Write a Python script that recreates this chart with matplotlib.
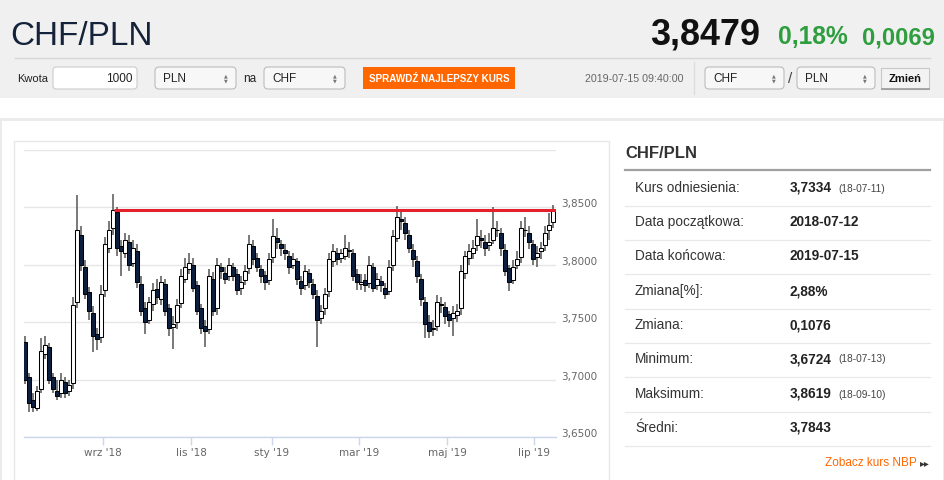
### CHF/PLN - kurs i wykres świecowy ###
import matplotlib
matplotlib.use('Agg')
import matplotlib.pyplot as plt
from matplotlib import font_manager as fm
from matplotlib.patches import Rectangle, FancyBboxPatch
import numpy as np

# dane świec (co ok. 2 sesje, 2018-07-12 .. 2019-07-15)
open_ = [3.733, 3.702, 3.682, 3.675, 3.692, 3.722, 3.728, 3.702, 3.690, 3.688,
         3.698, 3.690, 3.697, 3.768, 3.826, 3.798, 3.776, 3.758, 3.740, 3.737,
         3.778, 3.815, 3.832, 3.846, 3.816, 3.810, 3.820, 3.802, 3.812, 3.783,
         3.762, 3.752, 3.766, 3.779, 3.770, 3.783, 3.762, 3.746, 3.750, 3.767,
         3.788, 3.796, 3.800, 3.782, 3.762, 3.747, 3.744, 3.788, 3.762, 3.798,
         3.793, 3.790, 3.798, 3.792, 3.780, 3.787, 3.797, 3.816, 3.806, 3.796,
         3.791, 3.787, 3.807, 3.823, 3.818, 3.813, 3.808, 3.800, 3.803, 3.786,
         3.782, 3.793, 3.783, 3.773, 3.754, 3.762, 3.777, 3.803, 3.810, 3.806,
         3.808, 3.813, 3.810, 3.792, 3.783, 3.787, 3.784, 3.798, 3.782, 3.786,
         3.780, 3.777, 3.800, 3.823, 3.840, 3.836, 3.826, 3.813, 3.803, 3.788,
         3.768, 3.750, 3.744, 3.747, 3.766, 3.763, 3.757, 3.754, 3.756, 3.762,
         3.793, 3.806, 3.810, 3.817, 3.823, 3.820, 3.817, 3.822, 3.830, 3.828,
         3.813, 3.797, 3.787, 3.800, 3.807, 3.830, 3.828, 3.818, 3.807, 3.812,
         3.817, 3.830, 3.837]
close = [3.700, 3.680, 3.676, 3.690, 3.725, 3.730, 3.700, 3.692, 3.686, 3.700,
         3.688, 3.695, 3.765, 3.830, 3.800, 3.775, 3.760, 3.738, 3.735, 3.775,
         3.818, 3.830, 3.848, 3.815, 3.812, 3.822, 3.800, 3.815, 3.785, 3.760,
         3.750, 3.768, 3.778, 3.772, 3.785, 3.760, 3.745, 3.748, 3.765, 3.790,
         3.798, 3.802, 3.780, 3.760, 3.745, 3.742, 3.790, 3.760, 3.800, 3.795,
         3.788, 3.800, 3.790, 3.778, 3.785, 3.795, 3.818, 3.805, 3.798, 3.790,
         3.785, 3.805, 3.825, 3.820, 3.815, 3.810, 3.798, 3.805, 3.788, 3.780,
         3.795, 3.785, 3.775, 3.752, 3.760, 3.775, 3.805, 3.812, 3.805, 3.810,
         3.815, 3.812, 3.790, 3.785, 3.785, 3.782, 3.800, 3.780, 3.788, 3.782,
         3.775, 3.798, 3.825, 3.842, 3.838, 3.828, 3.815, 3.805, 3.790, 3.770,
         3.748, 3.742, 3.745, 3.768, 3.765, 3.755, 3.752, 3.758, 3.760, 3.795,
         3.808, 3.812, 3.815, 3.825, 3.822, 3.815, 3.820, 3.832, 3.830, 3.815,
         3.795, 3.785, 3.798, 3.805, 3.832, 3.830, 3.820, 3.805, 3.810, 3.815,
         3.828, 3.835, 3.848]
high = [3.738, 3.706, 3.688, 3.694, 3.736, 3.738, 3.732, 3.706, 3.700, 3.706,
        3.702, 3.700, 3.772, 3.861, 3.834, 3.804, 3.781, 3.764, 3.745, 3.782,
        3.824, 3.838, 3.862, 3.850, 3.822, 3.828, 3.826, 3.822, 3.818, 3.790,
        3.768, 3.772, 3.784, 3.788, 3.790, 3.788, 3.766, 3.755, 3.770, 3.796,
        3.806, 3.810, 3.806, 3.786, 3.766, 3.752, 3.796, 3.794, 3.806, 3.802,
        3.798, 3.806, 3.802, 3.796, 3.790, 3.800, 3.826, 3.822, 3.810, 3.800,
        3.795, 3.810, 3.840, 3.832, 3.822, 3.818, 3.812, 3.810, 3.806, 3.790,
        3.800, 3.796, 3.788, 3.778, 3.765, 3.780, 3.810, 3.818, 3.815, 3.814,
        3.826, 3.820, 3.814, 3.796, 3.792, 3.792, 3.808, 3.802, 3.793, 3.790,
        3.784, 3.804, 3.830, 3.851, 3.846, 3.842, 3.830, 3.818, 3.808, 3.792,
        3.772, 3.756, 3.752, 3.774, 3.772, 3.768, 3.760, 3.764, 3.766, 3.800,
        3.812, 3.818, 3.822, 3.840, 3.830, 3.826, 3.828, 3.850, 3.838, 3.832,
        3.818, 3.800, 3.804, 3.812, 3.838, 3.842, 3.834, 3.822, 3.816, 3.820,
        3.834, 3.845, 3.852]
low = [3.696, 3.672, 3.672, 3.673, 3.688, 3.718, 3.696, 3.688, 3.682, 3.684,
       3.684, 3.686, 3.692, 3.762, 3.795, 3.770, 3.752, 3.724, 3.726, 3.732,
       3.772, 3.810, 3.826, 3.808, 3.790, 3.806, 3.795, 3.798, 3.780, 3.755,
       3.740, 3.748, 3.760, 3.766, 3.765, 3.755, 3.738, 3.727, 3.744, 3.762,
       3.784, 3.792, 3.776, 3.756, 3.740, 3.728, 3.740, 3.755, 3.756, 3.788,
       3.783, 3.786, 3.786, 3.774, 3.774, 3.782, 3.792, 3.800, 3.794, 3.784,
       3.778, 3.782, 3.802, 3.814, 3.808, 3.804, 3.792, 3.796, 3.782, 3.774,
       3.778, 3.780, 3.770, 3.728, 3.748, 3.756, 3.772, 3.798, 3.800, 3.802,
       3.804, 3.806, 3.786, 3.778, 3.778, 3.776, 3.780, 3.776, 3.778, 3.776,
       3.770, 3.774, 3.795, 3.820, 3.830, 3.822, 3.810, 3.798, 3.784, 3.764,
       3.736, 3.736, 3.738, 3.742, 3.758, 3.748, 3.746, 3.738, 3.750, 3.756,
       3.788, 3.800, 3.805, 3.812, 3.815, 3.808, 3.812, 3.818, 3.824, 3.808,
       3.790, 3.777, 3.783, 3.796, 3.802, 3.824, 3.814, 3.800, 3.798, 3.805,
       3.812, 3.822, 3.832]

last_price = 3.8479
month_labels = ["wrz '18", "lis '18", "sty '19", "mar '19", "maj '19", "lip '19"]
month_pos = [19.5, 41.5, 61.75, 83.5, 105.5, 127.25]   # indeks świecy
y_ticks = [3.65, 3.70, 3.75, 3.80, 3.85, 3.90]
y_labels = ['3,6500', '3,7000', '3,7500', '3,8000', '3,8500', '']

table_labels = ['Kurs odniesienia:', 'Data początkowa:', 'Data końcowa:', 'Zmiana[%]:',
                'Zmiana:', 'Minimum:', 'Maksimum:', 'Średni:']
table_values = ['3,7334', '2018-07-12', '2019-07-15', '2,88%', '0,1076', '3,6724', '3,8619', '3,7843']
table_dates = ['(18-07-11)', '', '', '', '', '(18-07-13)', '(18-09-10)', '']

# czcionki
names = {f.name for f in fm.fontManager.ttflist}
narrow = 'Liberation Sans Narrow' if 'Liberation Sans Narrow' in names else 'Liberation Sans'
sans = 'Liberation Sans'

fig = plt.figure(figsize=(9.45, 4.8), dpi=100)
fig.patch.set_facecolor('white')
rend = fig.canvas.get_renderer()

bg = fig.add_axes([0, 0, 1, 1])
bg.set_xlim(0, 945)
bg.set_ylim(480, 0)
bg.axis('off')


def fit(x, y, s, w, **kw):
    # tekst dopasowany do szerokości w pikselach
    t = bg.text(x, y, s, **kw)
    bb = t.get_window_extent(rend)
    t.set_fontsize(t.get_fontsize() * w / bb.width)
    return t


def select(x0, x1, label):
    bg.add_patch(FancyBboxPatch((x0, 67), x1 - x0, 22, boxstyle='round,pad=0,rounding_size=4',
                                fc='#f7f7f7', ec='#bcbcbc', lw=0.8))
    bg.text(x0 + 8, 78.5, label, va='center', fontsize=8.5, family=narrow, color='#222')
    bg.text(x1 - 10, 75.5, '▲', ha='center', va='center', fontsize=3.5, color='#777')
    bg.text(x1 - 10, 81, '▼', ha='center', va='center', fontsize=3.5, color='#777')


# tło strony
bg.add_patch(Rectangle((0, 0), 945, 98, fc='#f0f0f0', ec='none'))
bg.add_patch(Rectangle((0, 118), 945, 3, fc='#ebebeb', ec='none'))
bg.add_patch(Rectangle((0, 118), 2, 362, fc='#ebebeb', ec='none'))
bg.add_patch(Rectangle((943, 118), 2, 362, fc='#ebebeb', ec='none'))
bg.add_patch(Rectangle((13.5, 140.5), 595.5, 345, fc='white', ec='#e6e6e6', lw=1))

# nagłówek
fit(10, 45, 'CHF/PLN', 142, fontsize=30, family=narrow, color='#14233a', va='baseline')
fit(650, 45, '3,8479', 110, fontsize=30, family=narrow, weight='bold', color='#111111', va='baseline')
fit(778, 44, '0,18%', 70, fontsize=20, family=narrow, weight='bold', color='#2e9e3e', va='baseline')
fit(862, 44, '0,0069', 73, fontsize=20, family=narrow, weight='bold', color='#2e9e3e', va='baseline')
bg.plot([15, 930], [57.5, 57.5], color='#d6d6d6', lw=1)

# formularz
fit(17, 78.5, 'Kwota', 31, fontsize=8, family=narrow, color='#222', va='center')
bg.add_patch(FancyBboxPatch((53, 67), 84, 22, boxstyle='round,pad=0,rounding_size=3',
                            fc='white', ec='#cccccc', lw=0.8))
bg.text(133, 78.5, '1000', ha='right', va='center', fontsize=8.5, family=narrow, color='#222')
select(155, 236, 'PLN')
bg.text(243, 78.5, 'na', va='center', fontsize=8.5, family=narrow, color='#222')
select(264, 345, 'CHF')
bg.add_patch(Rectangle((363, 67), 152, 22, fc='#ff6600', ec='none'))
fit(439, 78.5, 'SPRAWDŹ NAJLEPSZY KURS', 140, fontsize=7.5, family=narrow, weight='bold',
    color='white', ha='center', va='center')
fit(585, 78.5, '2019-07-15 09:40:00', 99, fontsize=7.5, family=narrow, color='#666666', va='center')
bg.plot([694, 694], [62, 94], color='#dcdcdc', lw=1)
select(705, 784, 'CHF')
bg.text(790.5, 79, '/', ha='center', va='center', fontsize=11, family=narrow, color='#444')
select(797, 875, 'PLN')
bg.add_patch(Rectangle((881, 68), 48, 21, fc='#f3f3f3', ec='#c8c8c8', lw=0.8))
bg.plot([881.5, 928.5], [89, 89], color='#999999', lw=1.2)
bg.text(905, 78.5, 'Zmień', ha='center', va='center', fontsize=8, family=narrow,
        weight='bold', color='#111')

# tabela po prawej
bg.text(625, 154, 'CHF/PLN', va='center', fontsize=12, family=sans, weight='bold', color='#333333')
bg.plot([625, 930], [169.5, 169.5], color='#a0a0a0', lw=1.6)
row_y = [188, 222, 256, 291, 325, 359, 394, 428]
for yy, lab, val, dt in zip(row_y, table_labels, table_values, table_dates):
    bg.text(635, yy, lab, va='center', fontsize=9.8, family=sans, color='#333333')
    bg.text(790, yy, val, va='center', fontsize=9.8, family=sans, weight='bold', color='#222222')
    if dt:
        bg.text(838, yy + 0.5, dt, va='center', fontsize=7.3, family=sans, color='#444444')
    bg.plot([625, 930], [yy + 17.5, yy + 17.5], color='#e8e8e8', lw=0.9)
bg.text(917, 463, 'Zobacz kurs NBP', ha='right', va='center', fontsize=8.5, family=sans, color='#ff6600')
bg.text(925, 463.5, '▸▸', ha='center', va='center', fontsize=7, color='#333333')

# wykres świecowy
ax = fig.add_axes([24 / 945, 1 - 437 / 480, 532 / 945, 287 / 480])
ax.set_facecolor('white')
idx = np.arange(len(close))
o = np.array(open_)
c = np.array(close)
up = c >= o
ax.vlines(idx, low, high, color='#555555', lw=1.1, zorder=2)
ax.bar(idx, np.abs(c - o), bottom=np.minimum(o, c), width=0.9,
       color=np.where(up, 'white', '#0c1f3f'), edgecolor='black', lw=0.75, zorder=3)
ax.plot([22.25, 132.75], [last_price, last_price], color='#e3202b', lw=2.2, zorder=4,
        solid_capstyle='butt')

ax.set_xlim(-0.25, 132.75)
ax.set_ylim(3.65, 3.90)
ax.set_yticks(y_ticks)
ax.set_yticklabels(y_labels)
ax.yaxis.tick_right()
ax.tick_params(axis='y', length=0, pad=4, labelsize=7.5, labelcolor='#666666')
for t in ax.get_yticklabels():
    t.set_verticalalignment('baseline')
ax.set_xticks(month_pos)
ax.set_xticklabels(month_labels)
ax.tick_params(axis='x', length=6, width=1, color='#ccd6eb', pad=2, labelsize=7.5, labelcolor='#666666')
ax.grid(axis='y', color='#e6e6e6', lw=1, zorder=0)
ax.set_axisbelow(True)
for s in ['top', 'left', 'right']:
    ax.spines[s].set_visible(False)
ax.spines['bottom'].set_color('#ccd6eb')
ax.spines['bottom'].set_linewidth(1)

fig.savefig('out.png', dpi=100)
